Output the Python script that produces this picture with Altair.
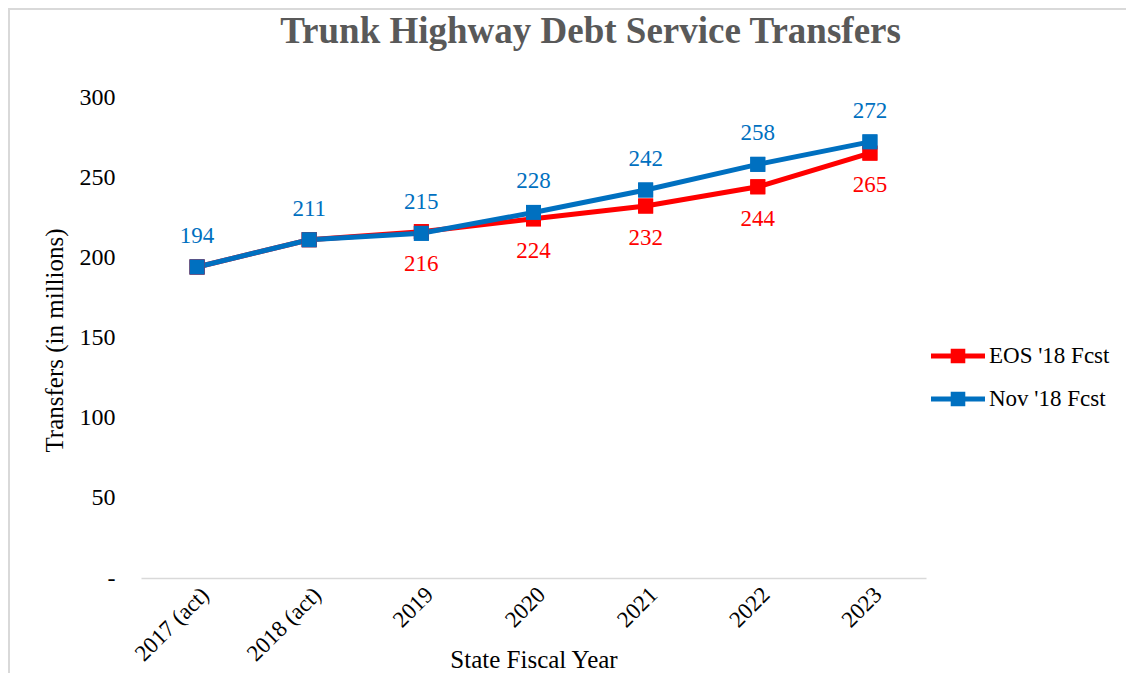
import altair as alt
import pandas as pd

years = ["2017 (act)", "2018 (act)", "2019", "2020", "2021", "2022", "2023"]
series_names = ["EOS '18 Fcst", "Nov '18 Fcst"]
eos_values = [194, 211, 216, 224, 232, 244, 265]
nov_values = [194, 211, 215, 228, 242, 258, 272]
series_colors = ["#FF0000", "#0070C0"]
y_ticks = [0, 50, 100, 150, 200, 250, 300]

rows = []
for s, vals in zip(series_names, [eos_values, nov_values]):
    for yr, v in zip(years, vals):
        rows.append({"year": yr, "series": s, "value": v})
df = pd.DataFrame(rows)

FONT = "Liberation Serif"
W, H = 785, 481

x_enc = alt.X(
    "year:N",
    sort=years,
    scale=alt.Scale(paddingInner=1, paddingOuter=0.5),
    axis=alt.Axis(
        title="State Fiscal Year",
        labelAngle=-45,
        labelFontSize=23,
        labelFont=FONT,
        labelColor="#000000",
        labelPadding=5,
        ticks=False,
        domainColor="#D9D9D9",
        domainWidth=1.5,
        titleFont=FONT,
        titleFontSize=25,
        titleFontWeight="normal",
        titleColor="#000000",
        titleY=89,
        titleBaseline="alphabetic",
        grid=False,
    ),
)
y_enc = alt.Y(
    "value:Q",
    scale=alt.Scale(domain=[0, 300]),
    axis=alt.Axis(
        title="Transfers (in millions)",
        values=y_ticks,
        labelExpr="datum.value == 0 ? '-' : datum.label",
        labelFontSize=24,
        labelFont=FONT,
        labelColor="#000000",
        labelPadding=26,
        ticks=False,
        domain=False,
        grid=False,
        titleFont=FONT,
        titleFontSize=25,
        titleFontWeight="normal",
        titleColor="#000000",
        titleX=-87,
        titleY=243,
        titleAngle=-90,
        titleBaseline="middle",
        titleAlign="center",
    ),
)
color_enc = alt.Color(
    "series:N",
    scale=alt.Scale(domain=series_names, range=series_colors),
    sort=series_names,
    legend=alt.Legend(
        title=None,
        orient="none",
        legendX=790,
        legendY=232,
        labelFont=FONT,
        labelFontSize=23,
        labelColor="#000000",
        symbolType="M-1,-0.09H1V0.09H-1Z M-0.27,-0.27H0.27V0.27H-0.27Z",
        symbolSize=2916,
        symbolStrokeWidth=0,
        rowPadding=4,
        labelOffset=4,
    ),
)

base = alt.Chart(df)

squares = base.mark_square(size=225, opacity=1, filled=True).encode(
    x=x_enc, y=y_enc, color=color_enc
)
lines = base.mark_line(strokeWidth=5).encode(
    x=x_enc, y=y_enc, color=color_enc
)

blue_labels = base.transform_filter(
    alt.datum.series == series_names[1]
).mark_text(font=FONT, fontSize=23, dy=-31, baseline="middle", color=series_colors[1]).encode(
    x=alt.X("year:N", sort=years), y="value:Q", text="value:Q"
)
red_labels = base.transform_filter(
    (alt.datum.series == series_names[0]) & (alt.expr.indexof(alt.datum.year, "(act)") < 0)
).mark_text(font=FONT, fontSize=23, dy=32, baseline="middle", color=series_colors[0]).encode(
    x=alt.X("year:N", sort=years), y="value:Q", text="value:Q"
)

frame_top = alt.Chart(pd.DataFrame({"a": [0]})).mark_rule(color="#D9D9D9", strokeWidth=2).encode(
    x=alt.value(-133), x2=alt.value(W + 200), y=alt.value(-88)
)
frame_left = alt.Chart(pd.DataFrame({"a": [0]})).mark_rule(color="#D9D9D9", strokeWidth=2).encode(
    x=alt.value(-132), y=alt.value(-89), y2=alt.value(H + 95)
)

chart = alt.layer(
    squares, lines, squares, blue_labels, red_labels, frame_top, frame_left
).resolve_scale(color="shared").properties(
    width=W,
    height=H,
    title=alt.Title(
        "Trunk Highway Debt Service Transfers",
        font=FONT,
        fontSize=37,
        fontWeight="bold",
        color="#595959",
        anchor="middle",
        offset=0,
        baseline="bottom",
        dy=81,
        dx=57,
    ),
    autosize=alt.AutoSizeParams(type="none"),
    padding={"left": 133, "top": 89, "right": 200, "bottom": 95},
).configure_view(stroke=None)

chart.save("out.html", embed_options={"renderer": "svg", "actions": False})
